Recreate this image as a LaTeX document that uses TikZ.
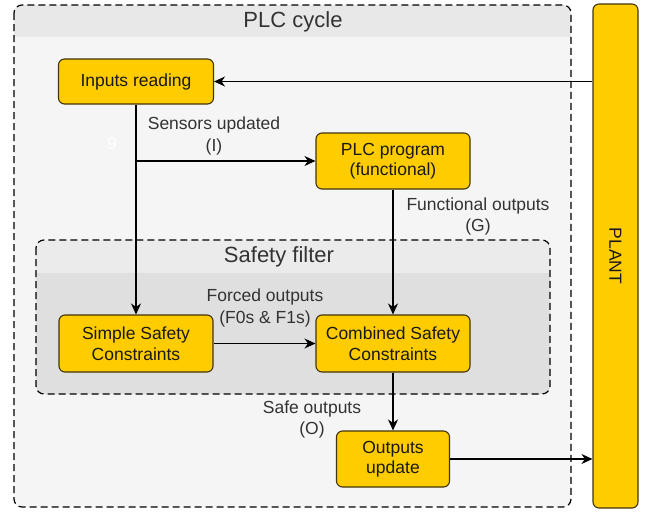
\documentclass[tikz,border=0pt]{standalone}
\usepackage{fontspec}
\setmainfont{Liberation Sans}
\usetikzlibrary{arrows.meta}
\definecolor{boxfill}{HTML}{FFCC00}
\definecolor{boxedge}{HTML}{403408}
\definecolor{outerhead}{HTML}{E8E8E8}
\definecolor{outerbody}{HTML}{F5F5F5}
\definecolor{innerhead}{HTML}{EBEBEB}
\definecolor{innerbody}{HTML}{DFDFDF}
\definecolor{labelgray}{HTML}{333333}
\tikzset{
  stepbox/.style={draw=boxedge, fill=boxfill, line width=1.1pt, rounded corners=6pt,
    text=black!90, align=center, inner sep=0pt,
    font=\fontsize{17.5}{20.6}\selectfont},
  flowlabel/.style={align=center, text=labelgray, inner sep=0pt,
    font=\fontsize{17.5}{21.5}\selectfont},
  titletext/.style={text=black!80, inner sep=0pt, font=\fontsize{22}{26}\selectfont},
  container/.style={draw=black, line width=1.2pt, dash pattern=on 7pt off 4pt, rounded corners=8pt},
  flow/.style={draw=black, line width=1.2pt, -{Stealth[length=11pt,width=10pt,inset=3.5pt]}},
  plainline/.style={draw=black, line width=1.2pt}
}
\begin{document}
\begin{tikzpicture}[x=1pt,y=-1pt]
\useasboundingbox (0,0) rectangle (656,512);

% PLC cycle container: body, header band, dashed border
\fill[outerbody, rounded corners=8pt] (14,5) rectangle (571,507);
\begin{scope}
  \clip[rounded corners=8pt] (14,5) rectangle (571,507);
  \fill[outerhead] (14,5) rectangle (571,37);
\end{scope}
\draw[container] (14,5) rectangle (571,507);
\node[titletext] (plctitle) at (293,21.5) {PLC cycle};

% Safety filter container
\fill[innerbody, rounded corners=8pt] (36,240) rectangle (550,394);
\begin{scope}
  \clip[rounded corners=8pt] (36,240) rectangle (550,394);
  \fill[innerhead] (36,240) rectangle (550,273);
\end{scope}
\draw[container] (36,240) rectangle (550,394);
\node[titletext] (sftitle) at (279,257) {Safety filter};

% Blocks
\node[stepbox, minimum width=155pt, minimum height=45pt] (inputs) at (136,81.5) {Inputs reading};
\node[stepbox, minimum width=154pt, minimum height=56pt] (plc) at (393,161) {PLC program\\(functional)};
\node[stepbox, minimum width=154pt, minimum height=57pt] (simple) at (136,343.5) {Simple Safety\\Constraints};
\node[stepbox, minimum width=154pt, minimum height=57pt] (combined) at (393,343.5) {Combined Safety\\Constraints};
\node[stepbox, minimum width=113pt, minimum height=56pt] (outputs) at (393,459) {Outputs\\update};
\node[stepbox, minimum width=45pt, minimum height=504pt] (plant) at (615.5,256) {};
\node[rotate=-90, text=black!90, font=\fontsize{17.5}{20.6}\selectfont] (planttext) at (plant.center) {PLANT};

% Connectors
\draw[flow] (plant.west |- inputs.east) -- (inputs.east);
\draw[flow] (inputs.south) -- (simple.north);
\coordinate (branch) at (inputs.south |- plc.west);
\draw[flow] (branch) -- (plc.west);
\draw[flow] (plc.south) -- (combined.north);
\draw[flow] (simple.east) -- (combined.west);
\draw[flow] (combined.south) -- (combined.south |- outputs.north);
\draw[flow] (outputs.east) -- (outputs.east -| plant.west);

% Connector labels
\node[flowlabel] (lblsensors) at (214,136) {Sensors updated\\(I)};
\node[flowlabel] (lblfunc) at (478,216.5) {Functional outputs\\(G)};
\node[flowlabel] (lblforced) at (265,308) {Forced outputs\\(F0s \& F1s)};
\node[flowlabel] (lblsafe) at (312,419.5) {Safe outputs\\(O)};
\node[flowlabel, text=white] (lblnine) at (112,143) {9};
\end{tikzpicture}
\end{document}
